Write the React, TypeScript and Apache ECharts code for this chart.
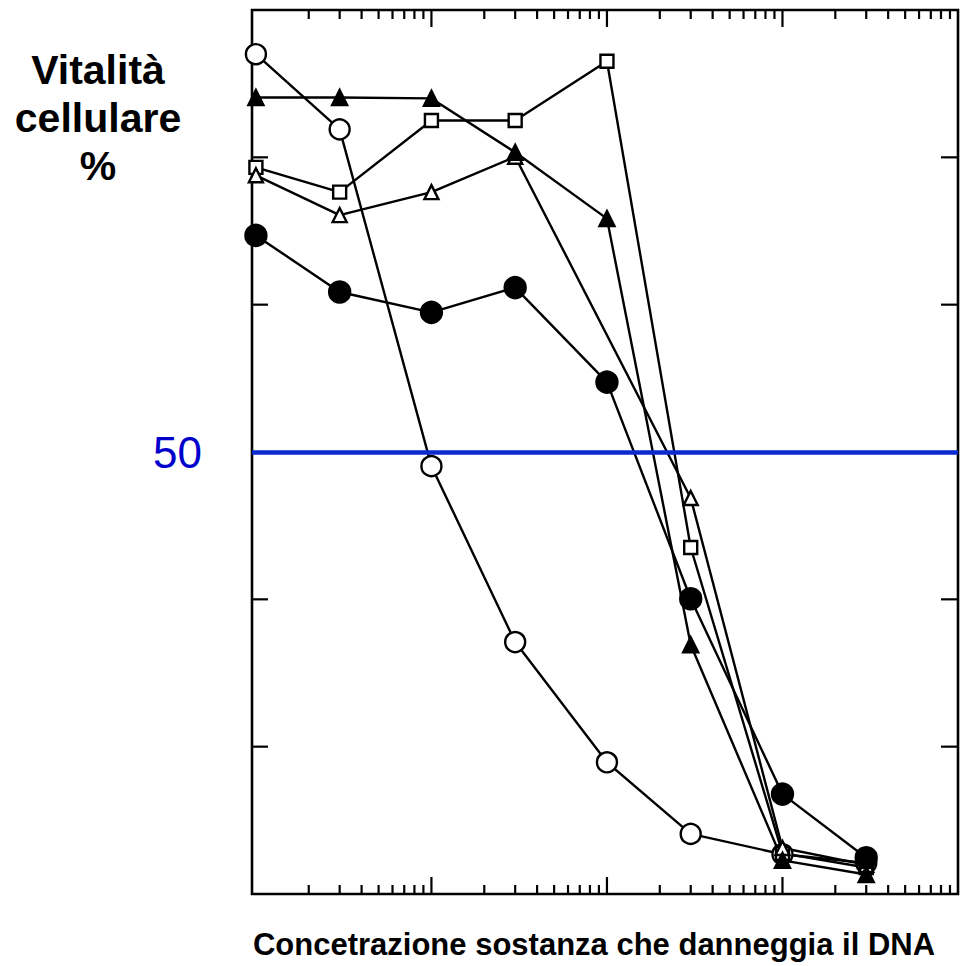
import React, { useEffect, useRef } from "react";
import * as echarts from "echarts";

// Concentrations (log scale)
const concentrations = [1, 3, 10, 30, 100, 300, 1000, 3000];

// Cell viability (%) for the five curves
const openCircle = [95.0, 86.5, 48.4, 28.5, 14.9, 6.8, 4.5, 3.5];
const filledTriangle = [90.1, 90.1, 90.0, 83.9, 76.4, 28.2, 3.8, 2.2];
const openSquare = [82.2, 79.4, 87.5, 87.5, 94.2, 39.2, 4.6, 3.0];
const openTriangle = [81.3, 76.8, 79.4, 83.4, null, 44.8, 5.2, 3.3];
const filledCircle = [74.5, 68.1, 65.8, 68.6, 57.9, 33.4, 11.3, 4.1];

// Axis extents and tick positions
const X_MIN = 0.95;
const X_MAX = 10000;
const Y_MIN = 0;
const Y_MAX = 100;
const xMajorTicks = [10, 100, 1000];
const xMinorTicks = [
  2, 3, 4, 5, 6, 7, 8, 9,
  20, 30, 40, 50, 60, 70, 80, 90,
  200, 300, 400, 500, 600, 700, 800, 900,
  2000, 3000, 4000, 5000, 6000, 7000, 8000, 9000,
];
const yTicks = [100 / 6, 200 / 6, 300 / 6, 400 / 6, 500 / 6];
const referenceLevel = 50;

const yTitle = "Vitalità\ncellulare\n%";
const xTitle = "Concetrazione sostanza che danneggia il DNA";

const FONT = "Liberation Sans, Arial, sans-serif";

function pairs(vals: (number | null)[]) {
  return concentrations.map((c, i) => [c, vals[i]]);
}

export default function App() {
  const ref = useRef<HTMLDivElement>(null);

  useEffect(() => {
    if (!ref.current) return;
    const chart = echarts.init(ref.current, null, { renderer: "svg" });

    const lineBase = (name: string, vals: (number | null)[], symbol: string, size: number, filled: boolean) => ({
      name,
      type: "line",
      data: pairs(vals),
      connectNulls: true,
      symbol,
      symbolSize: size,
      showSymbol: true,
      lineStyle: { color: "#000", width: 2.4 },
      itemStyle: { color: filled ? "#000" : "#fff", borderColor: "#000", borderWidth: 2.4, opacity: 1 },
      z: 3,
      silent: true,
    });

    const tickStyle = { stroke: "#000", lineWidth: 2.2 };

    const xTickData = [
      ...xMinorTicks.map((v) => [v, 0]),
      ...xMajorTicks.map((v) => [v, 1]),
    ];
    const yTickData = yTicks.map((v) => [1, v]);

    chart.setOption({
      animation: false,
      backgroundColor: "#fff",
      grid: {
        left: 252,
        right: 2,
        top: 10,
        bottom: 72,
        show: true,
        borderColor: "#000",
        borderWidth: 2.6,
        backgroundColor: "transparent",
      },
      xAxis: {
        type: "log",
        logBase: 10,
        min: X_MIN,
        max: X_MAX,
        axisLine: { show: false },
        axisTick: { show: false },
        axisLabel: { show: false },
        splitLine: { show: false },
        minorTick: { show: false },
      },
      yAxis: {
        type: "value",
        min: Y_MIN,
        max: Y_MAX,
        axisLine: { show: false },
        axisTick: { show: false },
        axisLabel: { show: false },
        splitLine: { show: false },
      },
      graphic: [
        {
          type: "text",
          x: 98,
          y: 46,
          style: {
            text: yTitle,
            font: `bold 41px ${FONT}`,
            fill: "#000",
            textAlign: "center",
            lineHeight: 48,
          },
        },
        {
          type: "text",
          x: 594,
          y: 944,
          style: {
            text: xTitle,
            font: `bold 31px ${FONT}`,
            fill: "#000",
            textAlign: "center",
            textVerticalAlign: "middle",
          },
        },
      ],
      series: [
        {
          type: "custom",
          silent: true,
          coordinateSystem: "cartesian2d",
          data: xTickData,
          z: 2,
          renderItem: (params: any, api: any) => {
            const x = api.value(0);
            const major = api.value(1) === 1;
            const len = major ? 17 : 9;
            const b = api.coord([x, Y_MIN]);
            const t = api.coord([x, Y_MAX]);
            return {
              type: "group",
              children: [
                { type: "line", shape: { x1: b[0], y1: b[1], x2: b[0], y2: b[1] - len }, style: tickStyle },
                { type: "line", shape: { x1: t[0], y1: t[1], x2: t[0], y2: t[1] + len }, style: tickStyle },
              ],
            };
          },
        },
        {
          type: "custom",
          silent: true,
          coordinateSystem: "cartesian2d",
          data: yTickData,
          z: 2,
          renderItem: (params: any, api: any) => {
            const y = api.value(1);
            const l = api.coord([X_MIN, y]);
            const r = api.coord([X_MAX, y]);
            return {
              type: "group",
              children: [
                { type: "line", shape: { x1: l[0], y1: l[1], x2: l[0] + 16, y2: l[1] }, style: tickStyle },
                { type: "line", shape: { x1: r[0], y1: r[1], x2: r[0] - 17, y2: r[1] }, style: tickStyle },
              ],
            };
          },
        },
        {
          ...lineBase("openCircle", openCircle, "circle", 20, false),
          markLine: {
            silent: true,
            symbol: "none",
            animation: false,
            lineStyle: { color: "#0a2ad0", width: 4.5, type: "solid" },
            label: {
              show: true,
              position: "start",
              formatter: String(referenceLevel),
              color: "#0000cc",
              fontSize: 44,
              fontFamily: FONT,
              distance: 50,
            },
            data: [{ yAxis: referenceLevel }],
          },
        },
        lineBase("openSquare", openSquare, "rect", 13, false),
        lineBase("openTriangle", openTriangle, "triangle", 14, false),
        lineBase("filledTriangle", filledTriangle, "triangle", 15, true),
        lineBase("filledCircle", filledCircle, "circle", 21, true),
      ],
    });

    return () => chart.dispose();
  }, []);

  return (
    <div
      ref={ref}
      style={{ position: "absolute", left: 0, top: 0, width: 960, height: 966 }}
    />
  );
}
